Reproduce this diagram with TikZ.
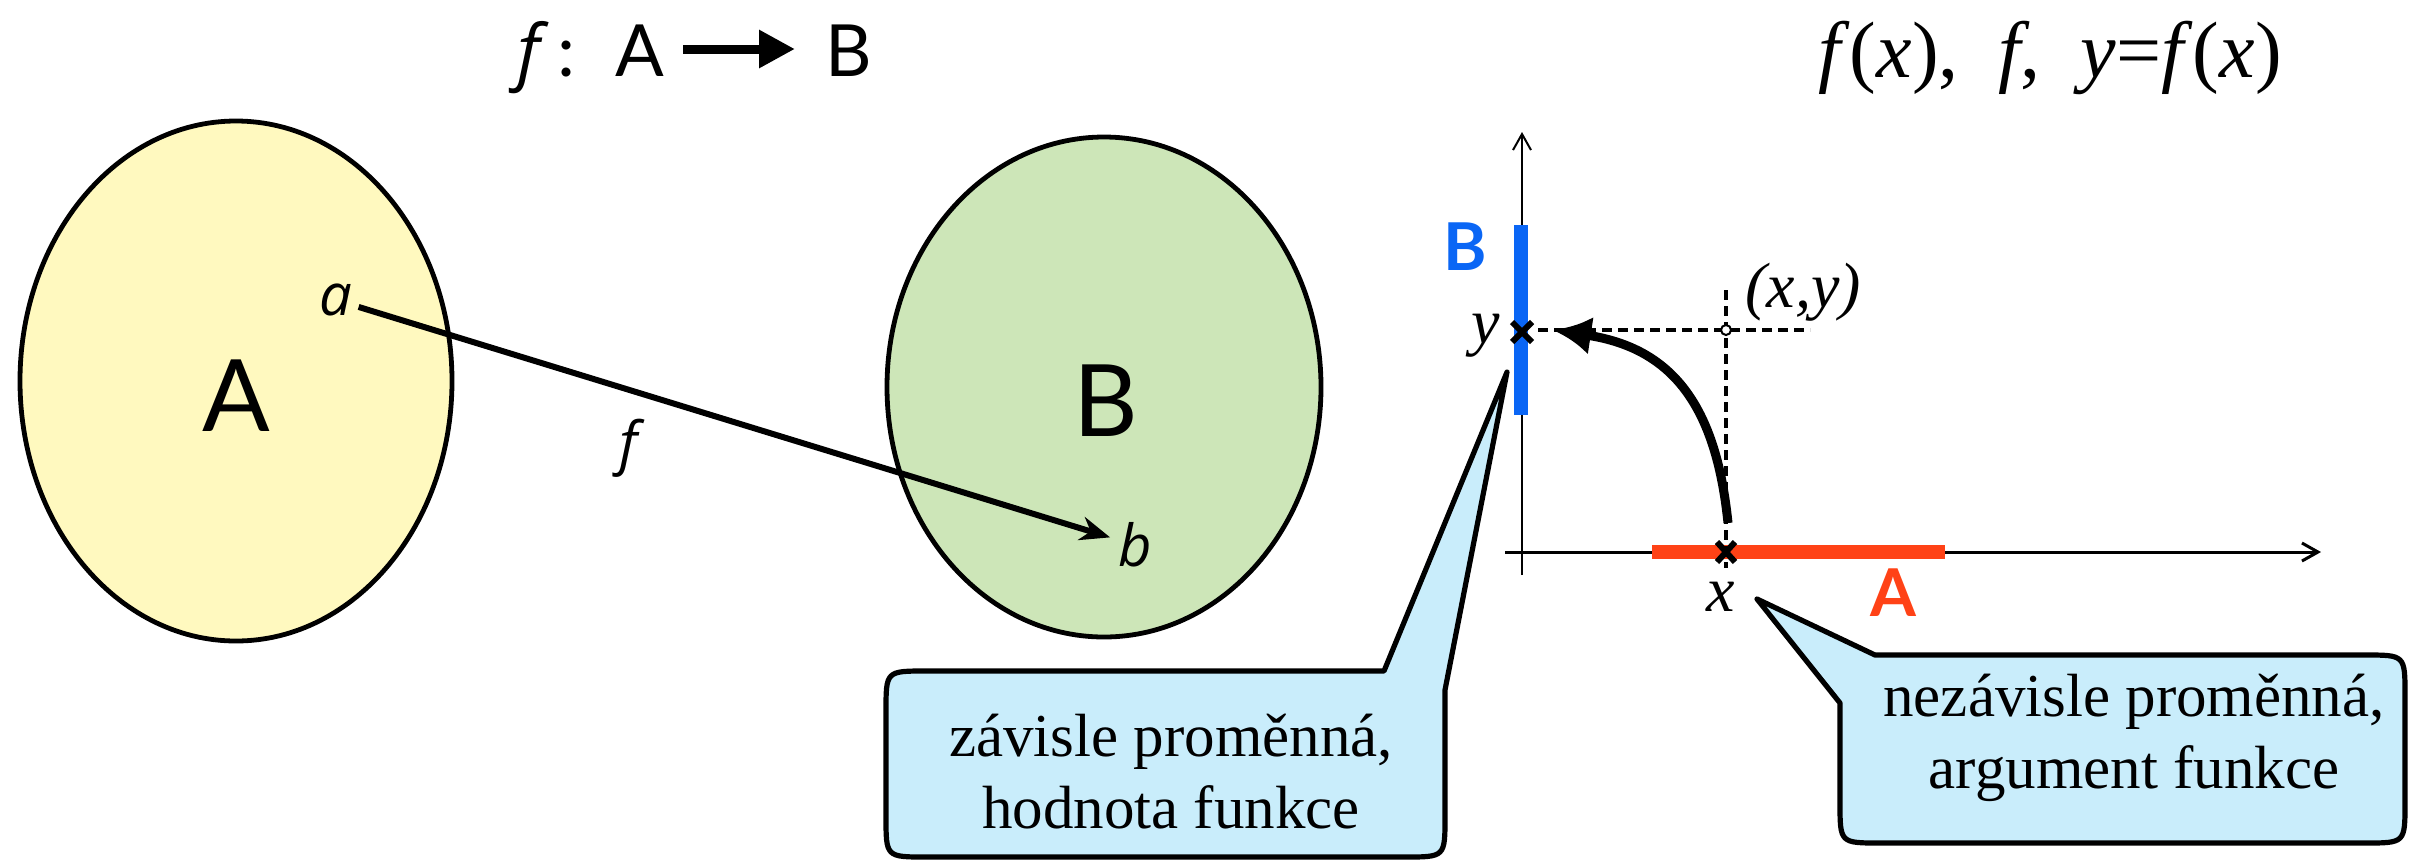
\documentclass[tikz,border=0pt]{standalone}
\usepackage{fontspec}
\setmainfont{Liberation Serif}
\newfontfamily\latofont{Lato}
\newfontfamily\osfont{Open Sans}
\usetikzlibrary{arrows.meta,shapes.geometric}
\definecolor{setAfill}{RGB}{255,249,191}
\definecolor{setBfill}{RGB}{205,230,184}
\definecolor{bubblefill}{RGB}{201,237,251}
\definecolor{bluebar}{RGB}{10,102,245}
\definecolor{redbar}{RGB}{255,66,22}
\begin{document}
\begin{tikzpicture}[x=0.5pt,y=-0.5pt,
  setshape/.style={ellipse, draw=black, line width=2.4pt, inner sep=0pt},
  biglabel/.style={inner sep=0pt, font=\latofont\fontsize{50}{60}\selectfont},
  smallital/.style={inner sep=1pt, font=\osfont\itshape\fontsize{29}{34}\selectfont},
  maparrow/.style={line width=3pt, -{Stealth[length=15pt,width=12pt]}, shorten <=2pt, shorten >=3pt},
  titlearrow/.style={line width=4.5pt, -{Triangle[length=18pt,width=18pt]}},
  axisline/.style={line width=1.5pt, -{Straight Barb[length=8pt,width=9pt]}},
  dashline/.style={line width=1.7pt, dash pattern=on 5pt off 3pt},
  crossmark/.style={line width=3pt},
  curvearrow/.style={line width=4.5pt, -{Latex[length=19pt,width=19pt]}},
  bubble/.style={draw=black, line width=2.6pt, fill=bubblefill, line join=round},
  bubbletext/.style={inner sep=0pt, align=center, font=\fontsize{30.5}{36}\selectfont},
  graphlabel/.style={inner sep=0pt, font=\itshape\fontsize{32}{38}\selectfont},
  barlabel/.style={inner sep=0pt, font=\latofont\bfseries\fontsize{33}{38}\selectfont}
]
\useasboundingbox (0,0) rectangle (2436,859);

% ---------- titles ----------
\node[anchor=base west, inner sep=0pt, font=\latofont\fontsize{36}{43}\selectfont] (tA) at (517,76) {{\osfont\itshape f}\hspace{9pt}:\hspace{20pt}A};
\node[anchor=base west, inner sep=0pt, font=\latofont\fontsize{36}{43}\selectfont] (tB) at (825,76) {B};
\draw[titlearrow] ([shift={(9pt,13.5pt)}]tA.base east) -- ([shift={(-15pt,13.5pt)}]tB.base west);

\node[anchor=base west, inner sep=0pt, font=\fontsize{40}{48}\selectfont] (rtitle) at (1818,77)
  {\textit{f}(\textit{x}),\ \ \textit{f},\ \ \textit{y}=\textit{f}(\textit{x})};

% ---------- sets ----------
\node[setshape, fill=setAfill, minimum width=216pt, minimum height=260pt] (setA) at (236,381) {};
\node[setshape, fill=setBfill, minimum width=217pt, minimum height=250pt] (setB) at (1104,387) {};
\node[biglabel] (labA) at (236,396) {A};
\node[biglabel] (labB) at (1106,401) {B};
\node[smallital] (pa) at (336,300) {a};
\node[smallital] (pb) at (1135,545) {b};
\node[smallital] (fl) at (629,448) {f};
\draw[maparrow] (pa) -- (pb);

% ---------- graph ----------
\coordinate (xs) at (1505,552);
\coordinate (xe) at (2321,552);
\coordinate (ys) at (1522,575);
\coordinate (ye) at (1522,132);
\draw[axisline] (xs) -- (xe);
\draw[axisline, line width=1pt] (ys) -- (ye);
\coordinate (bb1) at (1521,225);
\coordinate (bb2) at (1521,415);
\draw[bluebar, line width=7pt] (bb1) -- (bb2);
\coordinate (rb1) at (1652,552);
\coordinate (rb2) at (1945,552);
\draw[redbar, line width=7pt] (rb1) -- (rb2);

\coordinate (hd1) at (1538,330);
\coordinate (hd2) at (1810,330);
\coordinate (vd1) at (1726,290);
\coordinate (vd2) at (1726,568);
\draw[dashline] (hd1) -- (hd2);
\draw[dashline] (vd1) -- (vd2);
\node[circle, draw=black, line width=1pt, fill=white, minimum size=5pt, inner sep=0pt] (pt) at (1726,330) {};

\draw[crossmark] (1512,322) -- (1532,342) (1512,342) -- (1532,322);
\draw[crossmark] (1717,542) -- (1735,562) (1717,562) -- (1735,542);

\coordinate (cs) at (1728,523);
\coordinate (ce) at (1553,330);
\draw[curvearrow] (cs) .. controls (1716,405) and (1672,348) .. (ce);

\node[graphlabel, anchor=base] (ly) at (1486,343) {y};
\node[graphlabel, anchor=base] (lx) at (1721,611) {x};
\node[graphlabel, anchor=base] (lxy) at (1803,307) {(\textit{x},\textit{y})};
\node[barlabel, text=bluebar] (lB) at (1465,247) {B};
\node[barlabel, text=redbar] (lA) at (1893,593) {A};

% ---------- callouts ----------
\draw[bubble] (1384,671) -- (1507,372) -- (1445,690) -- (1445,817)
  .. controls (1445,857) .. (1405,857) -- (926,857)
  .. controls (886,857) .. (886,817) -- (886,711)
  .. controls (886,671) .. (926,671) -- cycle;
\node[bubbletext] (ctL) at (1171,772) {závisle proměnná,\\hodnota funkce};

\draw[bubble] (1875,655) -- (1757,599) -- (1840,703) -- (1840,803)
  .. controls (1840,843) .. (1880,843) -- (2365,843)
  .. controls (2405,843) .. (2405,803) -- (2405,695)
  .. controls (2405,655) .. (2365,655) -- cycle;
\node[bubbletext] (ctR) at (2134,738) {nezávisle proměnná,\\argument funkce};
\end{tikzpicture}
\end{document}
